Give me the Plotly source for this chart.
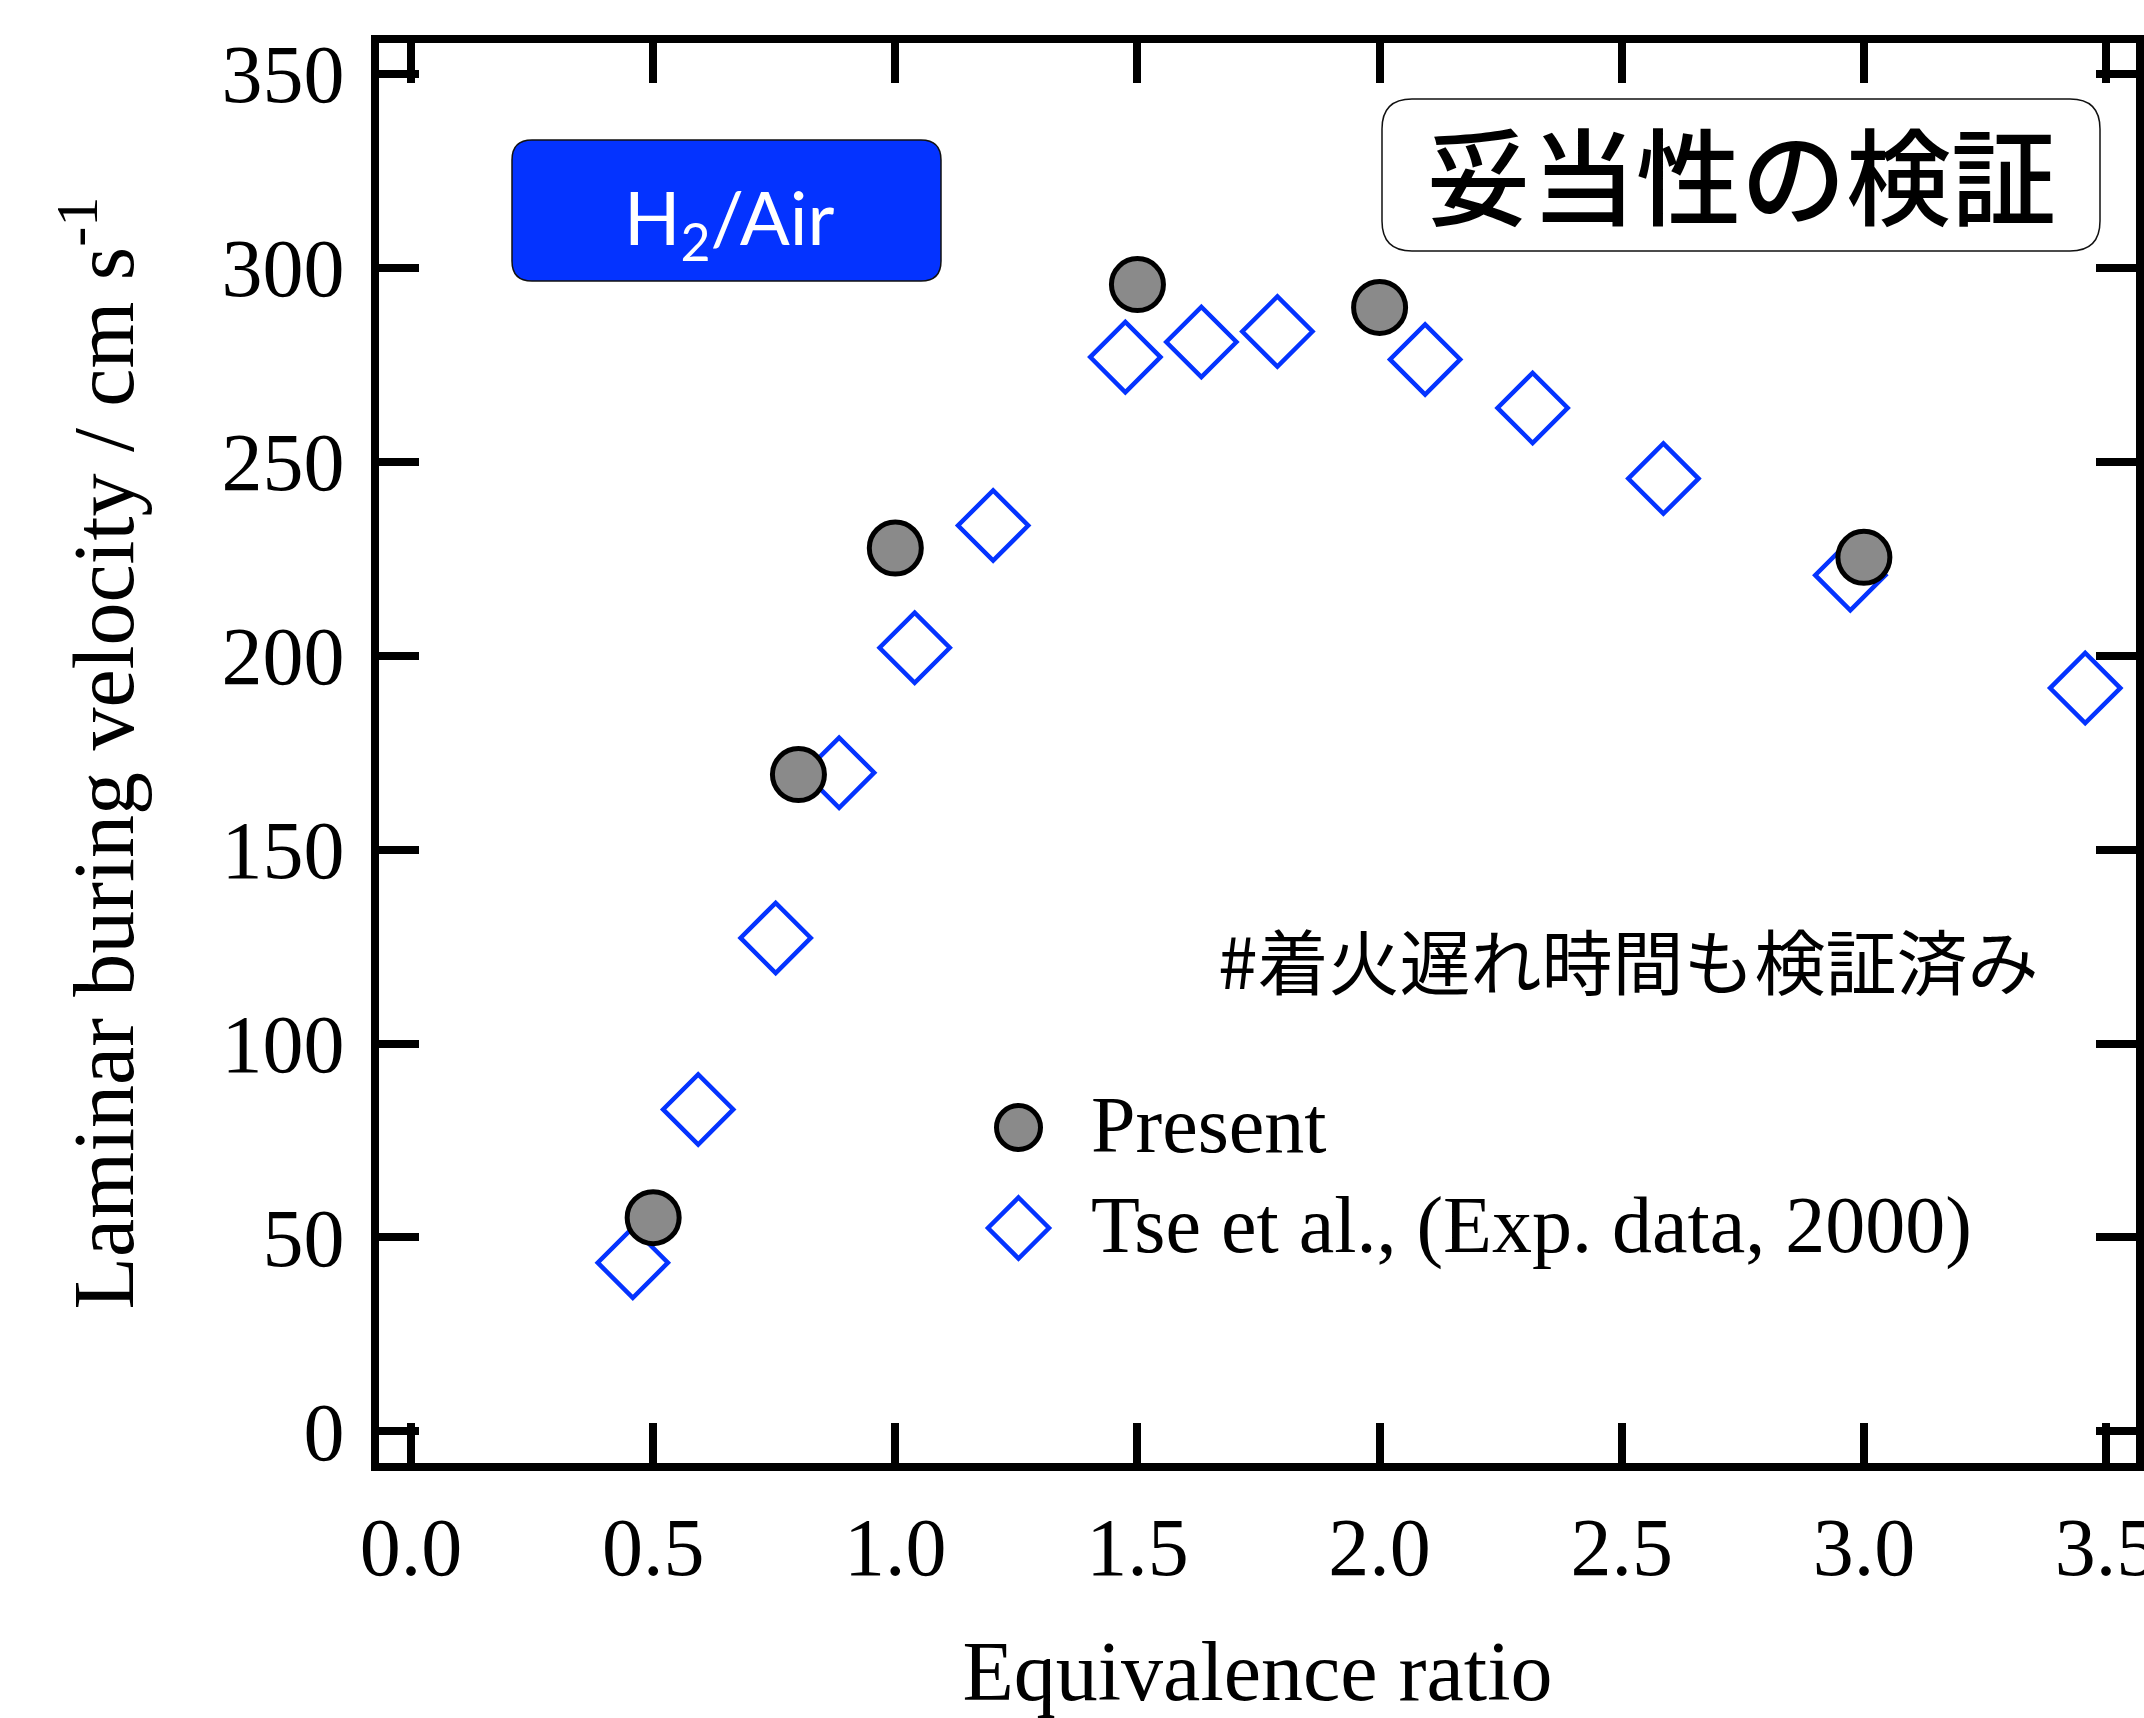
import plotly.graph_objects as go

# ---------------- data ----------------
present_phi = [0.5, 0.8, 1.0, 1.5, 2.0, 3.0]
present_su = [55.1, 169.3, 227.7, 295.6, 289.7, 225.3]

tse_phi = [0.458, 0.593, 0.753, 0.884, 1.040, 1.202, 1.475, 1.632, 1.789,
           2.094, 2.316, 2.586, 2.972, 3.457]
tse_su = [43.5, 83.0, 127.2, 169.8, 202.0, 233.5, 276.9, 280.8, 283.5,
          276.3, 263.8, 245.6, 220.7, 191.6]

x_ticks = [0.0, 0.5, 1.0, 1.5, 2.0, 2.5, 3.0, 3.5]
y_ticks = [0, 50, 100, 150, 200, 250, 300, 350]

series_names = ["Present", "Tse et al., (Exp. data, 2000)"]
x_title = "Equivalence ratio"
y_title = "Laminar buring velocity / cm s<sup>-1</sup>"
box_label = "H<sub>2</sub>/Air"
title_label = "妥当性の検証"
note_label = "#着火遅れ時間も検証済み"

# ---------------- geometry helpers ----------------
W, H = 2144, 1718
ML, MR, MT, MB = 379, 8, 43, 255
PW, PH = W - ML - MR, H - MT - MB

def px(x):
    return (x - ML) / PW

def py(y):
    return (H - MB - y) / PH

def rrect(x0, y0, x1, y1, r):
    pts = [
        ("M", [(x0 + r, y0)]), ("L", [(x1 - r, y0)]), ("Q", [(x1, y0), (x1, y0 + r)]),
        ("L", [(x1, y1 - r)]), ("Q", [(x1, y1), (x1 - r, y1)]),
        ("L", [(x0 + r, y1)]), ("Q", [(x0, y1), (x0, y1 - r)]),
        ("L", [(x0, y0 + r)]), ("Q", [(x0, y0), (x0 + r, y0)]),
    ]
    s = ""
    for cmd, ps in pts:
        s += cmd + " " + " ".join(f"{px(a):.6f},{py(b):.6f}" for a, b in ps) + " "
    return s + "Z"

def diamond_path(cx, cy, h):
    return (f"M {px(cx):.6f},{py(cy - h):.6f} L {px(cx + h):.6f},{py(cy):.6f} "
            f"L {px(cx):.6f},{py(cy + h):.6f} L {px(cx - h):.6f},{py(cy):.6f} Z")

BLUE = "#0433ff"
GREY = "#8a8a8a"
SERIF = "Liberation Serif, Times New Roman, serif"
CJK = "Noto Sans CJK JP, sans-serif"

fig = go.Figure()

fig.add_trace(go.Scatter(
    x=tse_phi, y=tse_su, mode="markers", name=series_names[1], showlegend=False,
    marker=dict(symbol="diamond", size=54, color="white",
                line=dict(color=BLUE, width=4.5)),
    cliponaxis=False,
))
fig.add_trace(go.Scatter(
    x=present_phi, y=present_su, mode="markers", name=series_names[0], showlegend=False,
    marker=dict(symbol="circle", size=52, color=GREY,
                line=dict(color="black", width=5)),
    cliponaxis=False,
))

axis_common = dict(
    showgrid=False, zeroline=False, showline=True, linewidth=8, linecolor="black",
    mirror="allticks", ticks="inside", ticklen=40, tickwidth=8, tickcolor="black",
    tickfont=dict(family=SERIF, size=82, color="black"), automargin=False,
)

fig.update_xaxes(
    range=[-0.0661, 3.5619], tickvals=x_ticks, ticktext=[f"{v:.1f}" for v in x_ticks],
    ticklabelstandoff=6, ticklabeloverflow="allow",
    title=dict(text=x_title, font=dict(family=SERIF, size=84, color="black"), standoff=65),
    **axis_common,
)
fig.update_yaxes(
    range=[-8.12, 357.86], tickvals=y_ticks, ticktext=[str(v) for v in y_ticks],
    ticklabelstandoff=10,
    title=dict(text=y_title, font=dict(family=SERIF, size=86, color="black"), standoff=62),
    **axis_common,
)

shapes = []
# H2/Air blue rounded box
shapes.append(dict(type="path", xref="paper", yref="paper",
                   path=rrect(512, 140, 941, 281, 20),
                   fillcolor=BLUE, line=dict(color="#111111", width=1.5), layer="above"))
# Japanese title rounded box
shapes.append(dict(type="path", xref="paper", yref="paper",
                   path=rrect(1382, 99, 2100, 251, 30),
                   fillcolor="white", line=dict(color="#111111", width=1.5), layer="above"))
# legend symbols
LX = 1018.5
shapes.append(dict(type="circle", xref="paper", yref="paper",
                   x0=px(LX - 22), x1=px(LX + 22), y0=py(1127.5 + 22), y1=py(1127.5 - 22),
                   fillcolor=GREY, line=dict(color="black", width=5), layer="above"))
shapes.append(dict(type="path", xref="paper", yref="paper",
                   path=diamond_path(LX, 1228, 30.5),
                   fillcolor="white", line=dict(color=BLUE, width=4.5), layer="above"))

annotations = [
    dict(text=box_label, x=px(729), y=py(222), xref="paper", yref="paper",
         showarrow=False, xanchor="center", yanchor="middle",
         font=dict(family="Lato, Open Sans, sans-serif", size=74, color="white")),
    dict(text=title_label, x=px(1741), y=py(171), xref="paper", yref="paper",
         showarrow=False, xanchor="center", yanchor="middle",
         font=dict(family=CJK, size=105, color="black", weight=500)),
    dict(text=note_label, x=px(1628), y=py(958), xref="paper", yref="paper",
         showarrow=False, xanchor="center", yanchor="middle",
         font=dict(family=CJK, size=71, color="black")),
    dict(text=series_names[0], x=px(1089), y=py(1125), xref="paper", yref="paper",
         showarrow=False, xanchor="left", yanchor="middle",
         font=dict(family=SERIF, size=80, color="black")),
    dict(text=series_names[1], x=px(1089), y=py(1225), xref="paper", yref="paper",
         showarrow=False, xanchor="left", yanchor="middle",
         font=dict(family=SERIF, size=80, color="black")),
]

fig.update_layout(
    width=W, height=H, autosize=False,
    margin=dict(l=ML, r=MR, t=MT, b=MB, pad=0),
    paper_bgcolor="white", plot_bgcolor="white",
    shapes=shapes, annotations=annotations, showlegend=False,
)

fig.write_html("out.html", config={"displayModeBar": False},
               post_script="document.body.style.margin='0px';")
